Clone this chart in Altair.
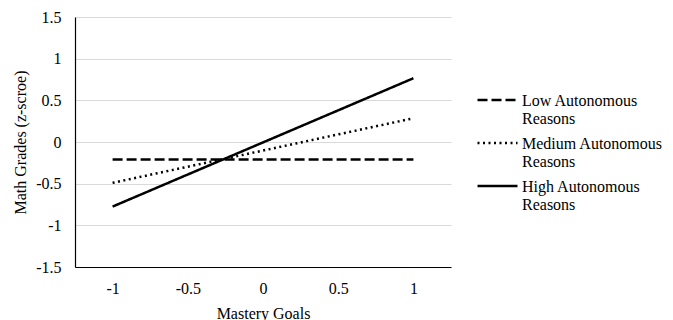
import altair as alt
import pandas as pd

series = ["Low Autonomous Reasons", "Medium Autonomous Reasons", "High Autonomous Reasons"]
x_vals = [-1, 1]
low_vals = [-0.21, -0.21]
medium_vals = [-0.49, 0.285]
high_vals = [-0.775, 0.765]

rows = []
for name, vals in zip(series, [low_vals, medium_vals, high_vals]):
    for x, y in zip(x_vals, vals):
        rows.append({"Mastery Goals": x, "value": y, "series": name})
df = pd.DataFrame(rows)

FONT = "Liberation Serif"

chart = alt.Chart(df).mark_line(color="black", strokeWidth=2.5, strokeCap="butt").encode(
    x=alt.X("Mastery Goals:Q",
            scale=alt.Scale(domain=[-1.25, 1.25], nice=False, zero=False),
            axis=alt.Axis(values=[-1, -0.5, 0, 0.5, 1], grid=False, ticks=False,
                          labelPadding=13, titlePadding=9,
                          labelExpr="'' + datum.value")),
    y=alt.Y("value:Q",
            scale=alt.Scale(domain=[-1.5, 1.5], nice=False, zero=False),
            axis=alt.Axis(values=[-1.5, -1, -0.5, 0, 0.5, 1, 1.5], grid=True, ticks=False,
                          labelPadding=14, titlePadding=7,
                          labelExpr="'' + datum.value",
                          title="Math Grades (z-scroe)")),
    strokeDash=alt.StrokeDash("series:N",
        scale=alt.Scale(domain=series, range=[[10, 4], [2, 3.5], [1, 0]]),
        legend=alt.Legend(title=None, orient="none", legendX=401, legendY=67,
                          symbolType="M-1,-0.28L1,-0.28", symbolSize=1600, symbolStrokeWidth=2.5,
                          symbolStrokeColor="black", symbolFillColor="transparent",
                          labelOffset=3, rowPadding=-10,
                          labelFontSize=16, labelFont=FONT, labelColor="black",
                          labelBaseline="alphabetic", labelLimit=300,
                          labelExpr="[replace(datum.label, ' Reasons', ''), 'Reasons']")),
    detail="series:N",
).properties(
    width=376, height=250,
    autosize=alt.AutoSizeParams(type="none"),
    padding={"left": 67, "top": 9, "right": 214, "bottom": 53},
).configure_view(stroke=None).configure_axis(
    labelFont=FONT, titleFont=FONT, labelFontSize=16, titleFontSize=16,
    labelColor="black", titleColor="black", titleFontWeight="normal",
    domainColor="black", domainWidth=1.2, gridColor="#d9d9d9", gridWidth=1,
).configure_axisY(domain=True).configure_axisX(domain=True)

chart.save("out.html", embed_options={"renderer": "svg", "actions": False})
